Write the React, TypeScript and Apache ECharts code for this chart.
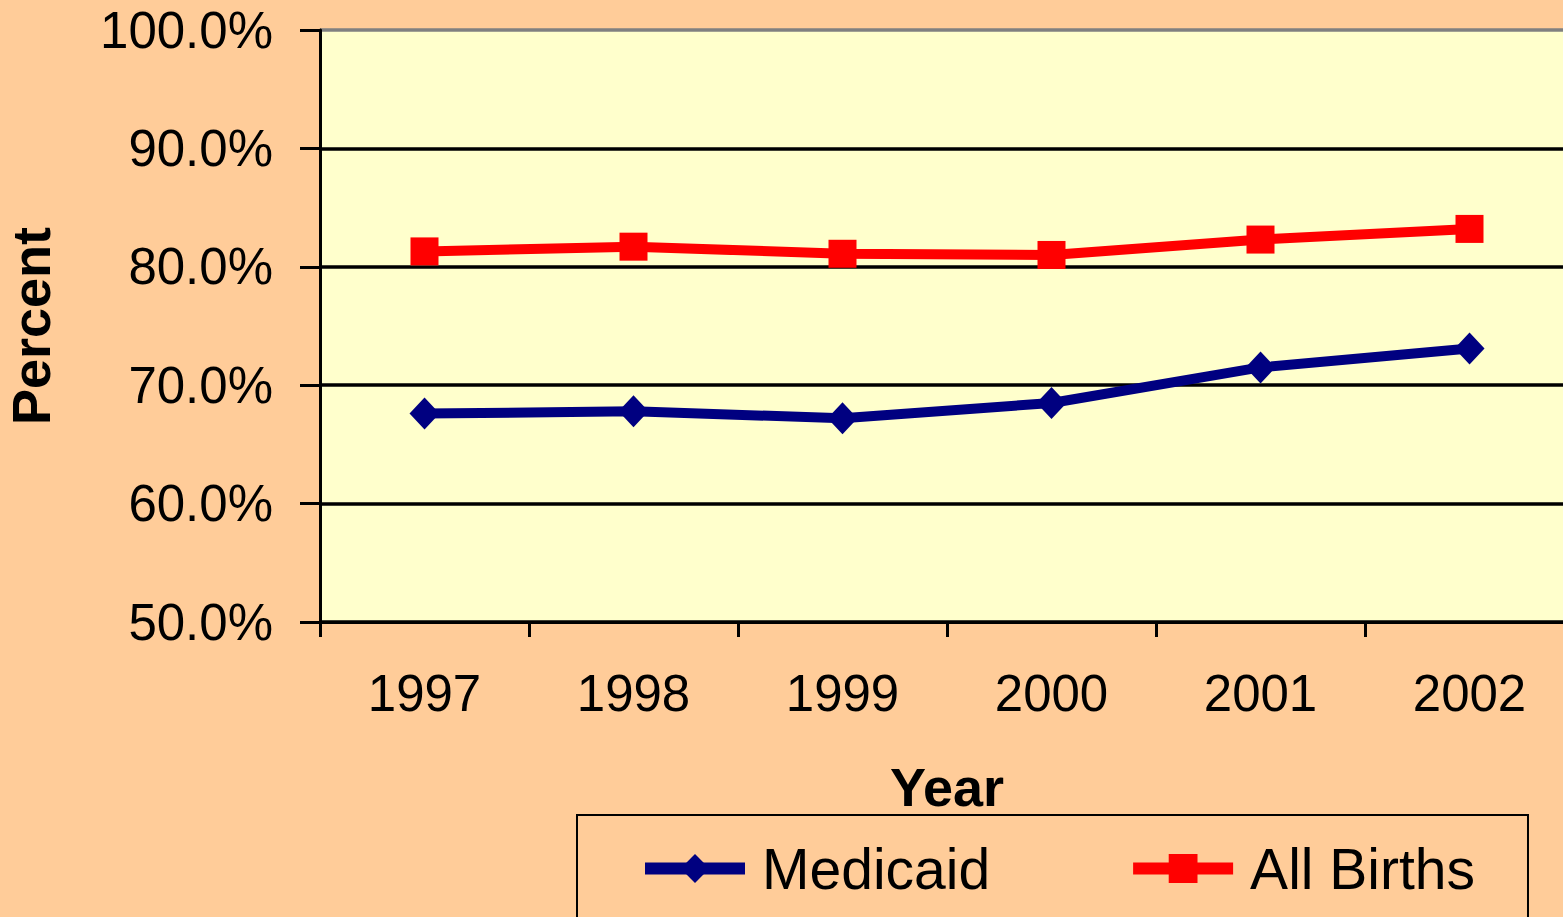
import React, { useEffect, useRef } from "react";
import * as echarts from "echarts";

const years = ["1997", "1998", "1999", "2000", "2001", "2002"];
const medicaid = [67.6, 67.8, 67.2, 68.5, 71.5, 73.1];
const allBirths = [81.3, 81.7, 81.1, 81.0, 82.3, 83.2];
const yTicks = { min: 50, max: 100, interval: 10 };
const seriesNames = ["Medicaid", "All Births"];

const FONT = "'Liberation Sans', Arial, sans-serif";

export default function App() {
  const ref = useRef<HTMLDivElement>(null);
  useEffect(() => {
    if (!ref.current) return;
    const chart = echarts.init(ref.current, null, { renderer: "svg" });
    chart.setOption({
      animation: false,
      backgroundColor: "#FFCC99",
      textStyle: { fontFamily: FONT, color: "#000" },
      grid: {
        left: 320,
        top: 30,
        width: 1254,
        height: 592,
        show: true,
        backgroundColor: "#FFFFCC",
        borderWidth: 0,
        containLabel: false,
        outerBoundsMode: "none",
      },
      xAxis: {
        type: "category",
        data: years,
        boundaryGap: true,
        name: "Year",
        nameLocation: "middle",
        nameGap: 138,
        nameTextStyle: { fontSize: 54, fontWeight: "bold", fontFamily: FONT, color: "#000" },
        axisLine: { show: true, lineStyle: { color: "#000", width: 3 } },
        axisTick: { show: true, alignWithLabel: false, length: 15, lineStyle: { color: "#000", width: 3 } },
        axisLabel: { fontSize: 51, fontFamily: FONT, color: "#000", margin: 46 },
        splitLine: { show: false },
      },
      yAxis: {
        type: "value",
        min: yTicks.min,
        max: yTicks.max,
        interval: yTicks.interval,
        name: "Percent",
        nameLocation: "middle",
        nameGap: 262,
        nameRotate: 90,
        nameTextStyle: { fontSize: 54, fontWeight: "bold", fontFamily: FONT, color: "#000" },
        axisLine: { show: true, lineStyle: { color: "#000", width: 3 } },
        axisTick: { show: true, length: 20, lineStyle: { color: "#000", width: 3 } },
        axisLabel: {
          fontSize: 51,
          fontFamily: FONT,
          color: "#000",
          margin: 47,
          formatter: (v: number) => v.toFixed(1) + "%",
        },
        splitLine: {
          show: true,
          lineStyle: { color: ["#000", "#000", "#000", "#000", "#000", "#808080"], width: 3.5 },
        },
      },
      legend: {
        data: seriesNames,
        left: 577,
        top: 815,
        orient: "horizontal",
        borderColor: "#000",
        borderWidth: 2,
        padding: [25, 53, 30, 62],
        itemWidth: 100,
        itemHeight: 36,
        itemGap: 137,
        lineStyle: { width: 12 },
        textStyle: { fontSize: 57, fontFamily: FONT, color: "#000", padding: [0, 0, 0, 12] },
      },
      series: [
        {
          name: seriesNames[0],
          type: "line",
          data: medicaid,
          symbol: "diamond",
          symbolSize: [30, 32],
          lineStyle: { color: "#000080", width: 10 },
          itemStyle: { color: "#000080" },
        },
        {
          name: seriesNames[1],
          type: "line",
          data: allBirths,
          symbol: "rect",
          symbolSize: 28,
          lineStyle: { color: "#FF0000", width: 10 },
          itemStyle: { color: "#FF0000" },
        },
      ],
    });
    return () => chart.dispose();
  }, []);
  return (
    <div
      ref={ref}
      style={{ position: "absolute", left: 0, top: 0, width: 1563, height: 917 }}
    />
  );
}
